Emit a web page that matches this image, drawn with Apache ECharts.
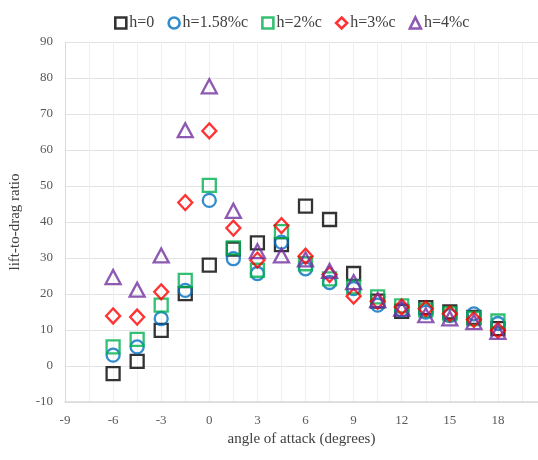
<!DOCTYPE html>
<html>
<head>
<meta charset="utf-8">
<script src="https://cdn.jsdelivr.net/npm/echarts@6/dist/echarts.min.js"></script>
<style>html,body{margin:0;padding:0;background:#fff;}#c{width:538px;height:460px;}</style>
</head>
<body>
<div id="c"></div>
<script>
const angles = [-6, -4.5, -3, -1.5, 0, 1.5, 3, 4.5, 6, 7.5, 9, 10.5, 12, 13.5, 15, 16.5, 18];
const h0   = [-2.1, 1.3, 9.9, 20.1, 28.0, 32.5, 34.2, 33.7, 44.4, 40.7, 25.7, 18.0, 15.2, 16.2, 15.0, 13.5, 10.4];
const h158 = [3.0, 5.3, 13.2, 21.0, 46.0, 29.8, 25.7, 34.4, 27.0, 23.2, 21.5, 16.9, 15.5, 15.0, 14.0, 14.5, 11.8];
const h2   = [5.3, 7.4, 16.9, 23.8, 50.2, 32.8, 26.6, 37.3, 28.4, 24.2, 22.0, 19.2, 16.7, 15.5, 14.5, 13.2, 12.5];
const h3   = [13.9, 13.6, 20.6, 45.4, 65.3, 38.3, 29.4, 39.0, 30.5, 25.4, 19.4, 18.0, 16.4, 15.9, 14.5, 12.9, 9.9];
const h4   = [24.7, 21.2, 30.7, 65.5, 77.7, 43.1, 31.9, 30.7, 29.6, 26.4, 23.3, 18.3, 15.9, 14.1, 13.2, 12.2, 9.5];
const seriesNames = ['h=0', 'h=1.58%c', 'h=2%c', 'h=3%c', 'h=4%c'];
const seriesValues = [h0, h158, h2, h3, h4];
const colors = ['#000000', '#0070C0', '#00B050', '#FF0000', '#7030A0'];
const symbols = ['rect', 'circle', 'rect', 'diamond', 'triangle'];
const sizes = [[13, 13], 13, [13, 13], [14, 15], [15, 14]];

const font = 'Liberation Serif';
const chart = echarts.init(document.getElementById('c'), null, {renderer: 'canvas'});
const series = seriesNames.map((n, i) => ({
  name: n,
  type: 'scatter',
  symbol: symbols[i],
  symbolSize: sizes[i],
  data: angles.map((a, j) => [a, seriesValues[i][j]]),
  itemStyle: {color: 'rgba(255,255,255,0)', borderColor: colors[i], borderWidth: 2.3},
  emphasis: {disabled: true},
  z: 2 + i
}));
chart.setOption({
  animation: false,
  backgroundColor: '#fff',
  legend: {
    top: 10,
    left: 109,
    itemWidth: 11,
    itemHeight: 11,
    itemGap: 13,
    textStyle: {fontFamily: font, fontSize: 16, color: '#404040', padding: [0, 0, 0, -2]},
    data: seriesNames.map((n, i) => ({name: n, icon: symbols[i],
      itemStyle: {color: 'rgba(255,255,255,0)', borderColor: colors[i], borderWidth: 2.6}}))
  },
  grid: {left: 65, top: 42, bottom: 58, right: 0, containLabel: false},
  xAxis: {
    type: 'value', min: -9, max: 20.5, interval: 3,
    name: 'angle of attack (degrees)', nameLocation: 'middle', nameGap: 30,
    nameTextStyle: {fontFamily: font, fontSize: 15, color: '#404040'},
    axisLine: {show: true, onZero: false, lineStyle: {color: '#d9d9d9', width: 1.5}},
    axisTick: {show: false},
    axisLabel: {fontFamily: font, fontSize: 13, color: '#595959', margin: 12, showMaxLabel: false},
    splitLine: {show: true, lineStyle: {color: '#efefef', width: 1}},
    minorTick: {show: false, splitNumber: 2},
    minorSplitLine: {show: true, lineStyle: {color: '#efefef', width: 1}}
  },
  yAxis: {
    type: 'value', min: -10, max: 90, interval: 10,
    name: 'lift-to-drag ratio', nameLocation: 'middle', nameGap: 42, nameRotate: 90,
    nameTextStyle: {fontFamily: font, fontSize: 15, color: '#404040'},
    axisLine: {show: true, onZero: false, lineStyle: {color: '#d9d9d9', width: 1}},
    axisTick: {show: false},
    axisLabel: {fontFamily: font, fontSize: 13, color: '#595959', margin: 12},
    splitLine: {show: true, lineStyle: {color: '#e3e3e3', width: 1}}
  },
  series: series
});
</script>
</body>
</html>
